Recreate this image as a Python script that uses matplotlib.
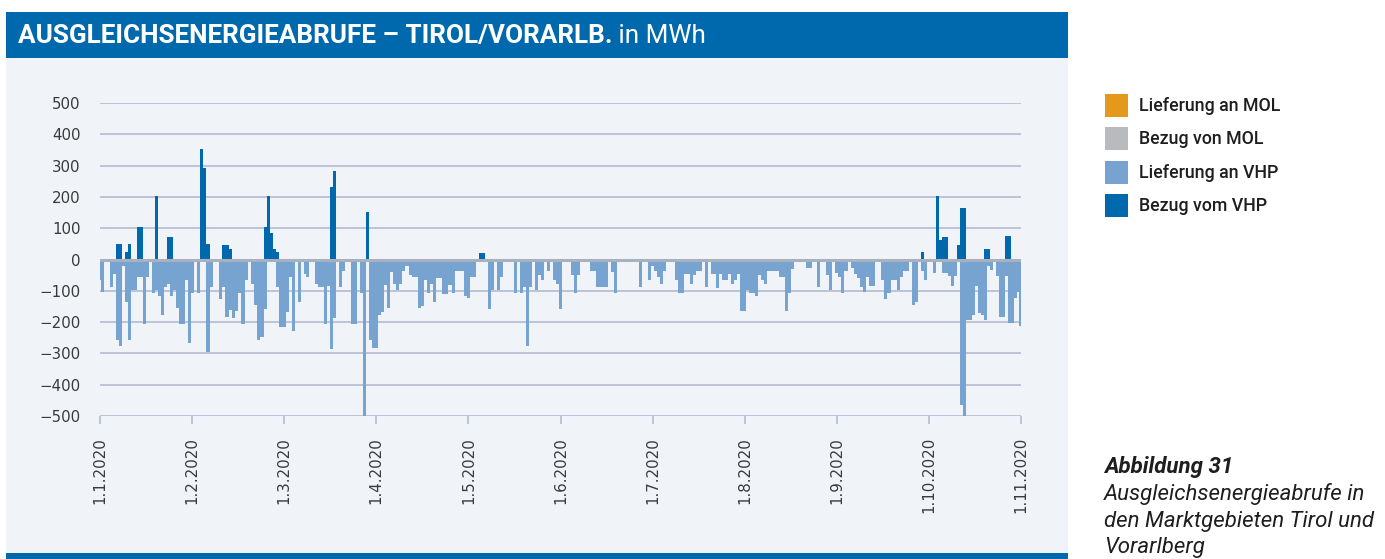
import numpy as np
import matplotlib.pyplot as plt
from matplotlib.patches import Rectangle

# Tagliche Ausgleichsenergieabrufe Tirol/Vorarlberg 2020 in MWh
# Lieferung an VHP (negativ), je Monat ein Wert pro Tag
lief_jan = [-65, -105, 0, 0, -88, -47, -257, -277, -20, -136,
            -257, -98, -98, -56, -56, -206, -56, 0, -106, -98,
            -117, -176, -88, -78, -117, -98, -155, -206, -206, -66,
            -268]
lief_feb = [-106, 0, -106, 0, 0, -296, -88, 0, 0, -125,
            -88, -184, -160, -187, -166, -106, -206, -66, 0, -77,
            -146, -257, -248, -157, 0, 0, 0, -88, -216]
lief_mar = [-216, -168, -56, -227, 0, -136, 0, -47, -56, 0,
            0, -77, -88, -88, -206, -86, -287, -188, 0, -89,
            -37, 0, 0, -207, -207, 0, -107, -509, 0, -257,
            -283]
lief_apr = [-283, -178, -169, -81, -156, -40, -79, -96, -78, -37,
            -20, -49, -57, -57, -156, -147, -67, -107, -78, -137,
            -59, -59, -110, -110, -80, -107, -37, -37, -37, -116]
lief_may = [-124, -57, -57, 0, 0, 0, 0, -158, -99, 0,
            -99, -57, 0, 0, 0, 0, -107, 0, -107, -89,
            -276, -89, 0, -97, -48, -65, 0, -37, 0, -67,
            -78]
lief_jun = [-158, 0, 0, 0, -48, -107, -48, 0, 0, 0,
            -37, -37, -89, -89, -89, -89, 0, -40, -107, 0,
            0, 0, 0, 0, 0, 0, -89, 0, 0, -65]
lief_jul = [-20, -37, -57, -77, -37, 0, 0, 0, -65, -107,
            -107, -45, -45, -77, -50, -37, -37, 0, -89, 0,
            -45, -45, -91, -45, -65, -65, -45, -77, -65, -45,
            -166]
lief_aug = [-166, -99, -107, -107, -117, -48, -65, -78, -37, -37,
            -37, -37, -57, -57, -166, -107, -30, 0, 0, 0,
            0, -27, -27, 0, 0, -89, 0, 0, -48, -97,
            0]
lief_sep = [-43, -57, -107, -37, 0, -27, -45, -60, -89, -105,
            -57, -86, -86, 0, 0, -65, -126, -107, -65, -65,
            -97, -57, -37, -37, 0, -145, -136, 0, -37, -65]
lief_oct = [0, 0, -43, 0, 0, -43, -43, -53, -86, -53,
            0, -465, -513, -193, -193, -176, -86, -171, -176, -193,
            -20, -34, 0, -53, -185, -185, -53, -203, -203, -123,
            -105]
lief_nov = [-214]

# Bezug vom VHP (positiv)
bez_jan = [0, 0, 0, 0, 0, 0, 50, 50, 0, 25,
           50, 0, 0, 103, 103, 0, 0, 0, 0, 203,
           0, 0, 0, 73, 73, 0, 0, 0, 0, 0,
           0]
bez_feb = [0, 0, 0, 353, 292, 50, 0, 0, 0, 0,
           45, 45, 33, 0, 0, 0, 0, 0, 0, 0,
           0, 0, 0, 103, 203, 84, 33, 25, 0]
bez_mar = [0, 0, 0, 0, 0, 0, 0, 0, 0, 0,
           0, 0, 0, 0, 0, 0, 232, 283, 0, 0,
           0, 0, 0, 0, 0, 0, 0, 0, 151, 0,
           0]
bez_apr = [0] * 30
bez_may = [0, 0, 0, 0, 22, 22, 0, 0, 0, 0,
           0, 0, 0, 0, 0, 0, 0, 0, 0, 0,
           0, 0, 0, 0, 0, 0, 0, 0, 0, 0,
           0]
bez_jun = [0] * 30
bez_jul = [0] * 31
bez_aug = [0] * 31
bez_sep = [0, 0, 0, 0, 0, 0, 0, 0, 0, 0,
           0, 0, 0, 0, 0, 0, 0, 0, 0, 0,
           0, 0, 0, 0, 0, 0, 0, 0, 23, 0]
bez_oct = [0, 0, 0, 203, 62, 73, 73, 0, 0, 0,
           46, 166, 166, 0, 0, 0, 0, 0, 0, 33,
           33, 0, 0, 0, 0, 0, 75, 75, 0, 0,
           0]
bez_nov = [0]

tick_labels = ["1.%d.2020" % m for m in range(1, 12)]
legend_labels = ["Lieferung an MOL", "Bezug von MOL", "Lieferung an VHP", "Bezug vom VHP"]

C_TITLE = "#0068ad"
C_PANEL = "#f0f4f9"
C_GRID = "#b7c1d4"
C_LIEF_VHP = "#77a3d0"
C_BEZ_VHP = "#0068ad"
legend_colors = ["#e4991d", "#b9babd", C_LIEF_VHP, C_BEZ_VHP]

lief_months = [lief_jan, lief_feb, lief_mar, lief_apr, lief_may, lief_jun,
               lief_jul, lief_aug, lief_sep, lief_oct, lief_nov]
bez_months = [bez_jan, bez_feb, bez_mar, bez_apr, bez_may, bez_jun,
              bez_jul, bez_aug, bez_sep, bez_oct, bez_nov]
month_days = [31, 29, 31, 30, 31, 30, 31, 31, 30, 31, 30]

# each month gets the same axis length, days are spread within it
xs, ws, lief, bez = [], [], [], []
for m, (lv, bv) in enumerate(zip(lief_months, bez_months)):
    n = month_days[m]
    for d in range(len(lv)):
        xs.append(m + d / n)
        ws.append(1.0 / n)
        lief.append(lv[d])
        bez.append(bv[d])

W, H = 1385, 559
fig = plt.figure(figsize=(W / 100, H / 100), dpi=100)


def px_rect(x0, y0, x1, y1, color):
    fig.add_artist(Rectangle((x0 / W, 1 - y1 / H), (x1 - x0) / W, (y1 - y0) / H,
                             transform=fig.transFigure, facecolor=color,
                             edgecolor="none", zorder=-10))


px_rect(6, 58, 1068, 553, C_PANEL)
px_rect(6, 12, 1068, 58, C_TITLE)
px_rect(6, 553, 1068, 562, C_TITLE)

ax = fig.add_axes([100 / W, (H - 416) / H, 921 / W, 313 / H])
ax.set_facecolor("none")
ax.set_zorder(1)

ax.bar(xs, lief, width=ws, color=C_LIEF_VHP, linewidth=0, zorder=2, antialiased=False)
ax.bar(xs, bez, width=ws, color=C_BEZ_VHP, linewidth=0, zorder=2, antialiased=False)
ax.axhline(0, color="#aab1be", lw=2.2, zorder=3)

ax.set_xlim(0, 10)
ax.set_ylim(-500, 500)
ax.set_yticks(range(-500, 501, 100))
ax.set_xticks(range(11))
ax.set_xticklabels(tick_labels, rotation=90, ha="center", va="top")
ax.yaxis.grid(True, color=C_GRID, lw=1.3)
ax.set_axisbelow(True)
for s in ax.spines.values():
    s.set_visible(False)
ax.tick_params(axis="x", length=6, width=1.3, color=C_GRID, pad=9,
               labelsize=10.8, labelcolor="#3a3a3a")
ax.tick_params(axis="y", length=0, pad=14, labelsize=10.8, labelcolor="#3a3a3a")

# title bar text
t1 = fig.text(18 / W, 1 - 43 / H, "AUSGLEICHSENERGIEABRUFE \u2013 TIROL/VORARLB.",
              color="white", fontsize=18.8, fontweight="bold", family="Roboto",
              va="baseline")
fig.canvas.draw()
bb = t1.get_window_extent(fig.canvas.get_renderer())
fig.text(bb.x1 / W, 1 - 43 / H, " in MWh", color="white", fontsize=18.8,
         family="Roboto", va="baseline")

# legend
for i, (lab, col) in enumerate(zip(legend_labels, legend_colors)):
    y0 = 94 + i * 33.3
    px_rect(1105, y0, 1128, y0 + 23, col)
    fig.text(1139 / W, 1 - (y0 + 12) / H, lab, fontsize=12.8, family="Roboto",
             fontweight="medium", color="#1e1e1e", va="center")

# caption
fig.text(1104 / W, 1 - 473 / H, "Abbildung 31", fontsize=16, family="Roboto",
         fontweight="bold", style="italic", color="#1e1e1e", va="baseline")
for j, line in enumerate(["Ausgleichsenergieabrufe in",
                          "den Marktgebieten Tirol und",
                          "Vorarlberg"]):
    fig.text(1104 / W, 1 - (500 + 26.5 * j) / H, line, fontsize=16, family="Roboto",
             style="italic", color="#1e1e1e", va="baseline")

fig.savefig("out.png", dpi=100)
